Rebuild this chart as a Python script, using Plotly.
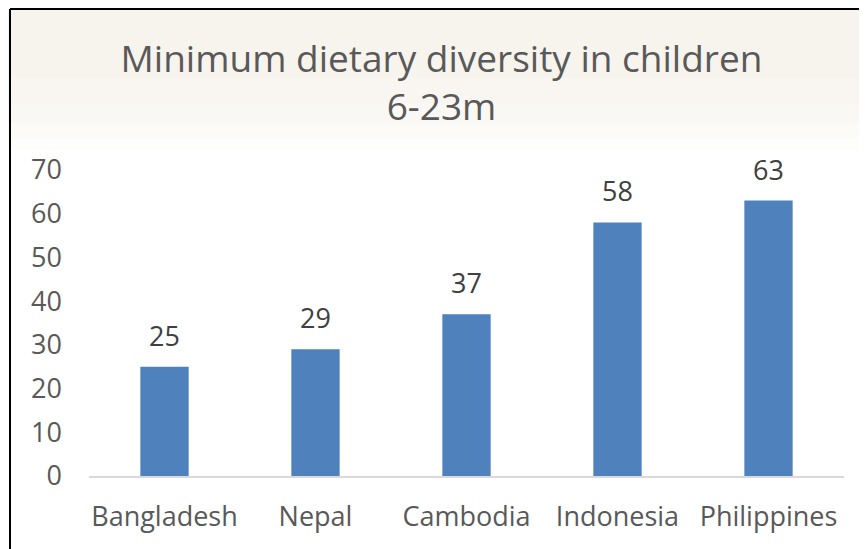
import plotly.graph_objects as go

countries = ["Bangladesh", "Nepal", "Cambodia", "Indonesia", "Philippines"]
values = [25, 29, 37, 58, 63]
y_ticks = [0, 10, 20, 30, 40, 50, 60, 70]

FONT = "Open Sans"
TXT = "#595959"

# figure-pixel geometry (page is offset by 8px body margin)
W, H = 859, 541
L, T = 81, 162
R = W - 836
B = H - 468
PW, PH = W - L - R, H - T - B


def px(fx):
    return (fx - L) / PW


def py(fy):
    return (H - B - fy) / PH


fig = go.Figure(go.Bar(
    x=countries, y=values,
    marker=dict(color="#4F81BD", line=dict(width=0)),
    width=0.32,
    cliponaxis=False,
))

annotations = [
    dict(x=c, y=v, xref="x", yref="y", text=str(v), showarrow=False,
         yanchor="bottom", yshift=11,
         font=dict(family=FONT, size=27, color="#404040"))
    for c, v in zip(countries, values)
]

shapes = []
# soft beige band at the top, fading out
steps = [(-20, 70, 1.0), (70, 95, 0.8), (95, 115, 0.6), (115, 130, 0.4), (130, 142, 0.2)]
for y0, y1, op in steps:
    shapes.append(dict(type="rect", xref="paper", yref="paper",
                       x0=px(-20), x1=px(W + 20), y0=py(y1), y1=py(y0),
                       fillcolor="#F7F4EE", opacity=op, line=dict(width=0), layer="below"))
# black border lines (left and top)
shapes.append(dict(type="line", xref="paper", yref="paper",
                   x0=px(2), x1=px(2), y0=py(H + 20), y1=py(1),
                   line=dict(color="black", width=2)))
shapes.append(dict(type="line", xref="paper", yref="paper",
                   x0=px(2), x1=px(W + 20), y0=py(1), y1=py(1),
                   line=dict(color="black", width=2)))

fig.update_layout(
    width=W, height=H,
    paper_bgcolor="white", plot_bgcolor="rgba(0,0,0,0)",
    margin=dict(l=L, r=R, t=T, b=B),
    showlegend=False,
    title=dict(
        text="Minimum dietary diversity in children<br>6-23m",
        x=433.5 / W, xanchor="center", y=1 - 64 / H, yanchor="middle",
        font=dict(family=FONT, size=37, color=TXT),
    ),
    xaxis=dict(
        showgrid=False, showline=True, linecolor="#D9D9D9", linewidth=1.5,
        ticks="", ticklabelstandoff=16,
        tickfont=dict(family=FONT, size=27, color=TXT),
    ),
    yaxis=dict(
        range=[0, 70], tickvals=y_ticks, showgrid=False, zeroline=False,
        showline=False, ticks="", ticklabelstandoff=26,
        tickfont=dict(family=FONT, size=27, color=TXT),
    ),
    annotations=annotations,
    shapes=shapes,
)

fig.write_html("out.html")
